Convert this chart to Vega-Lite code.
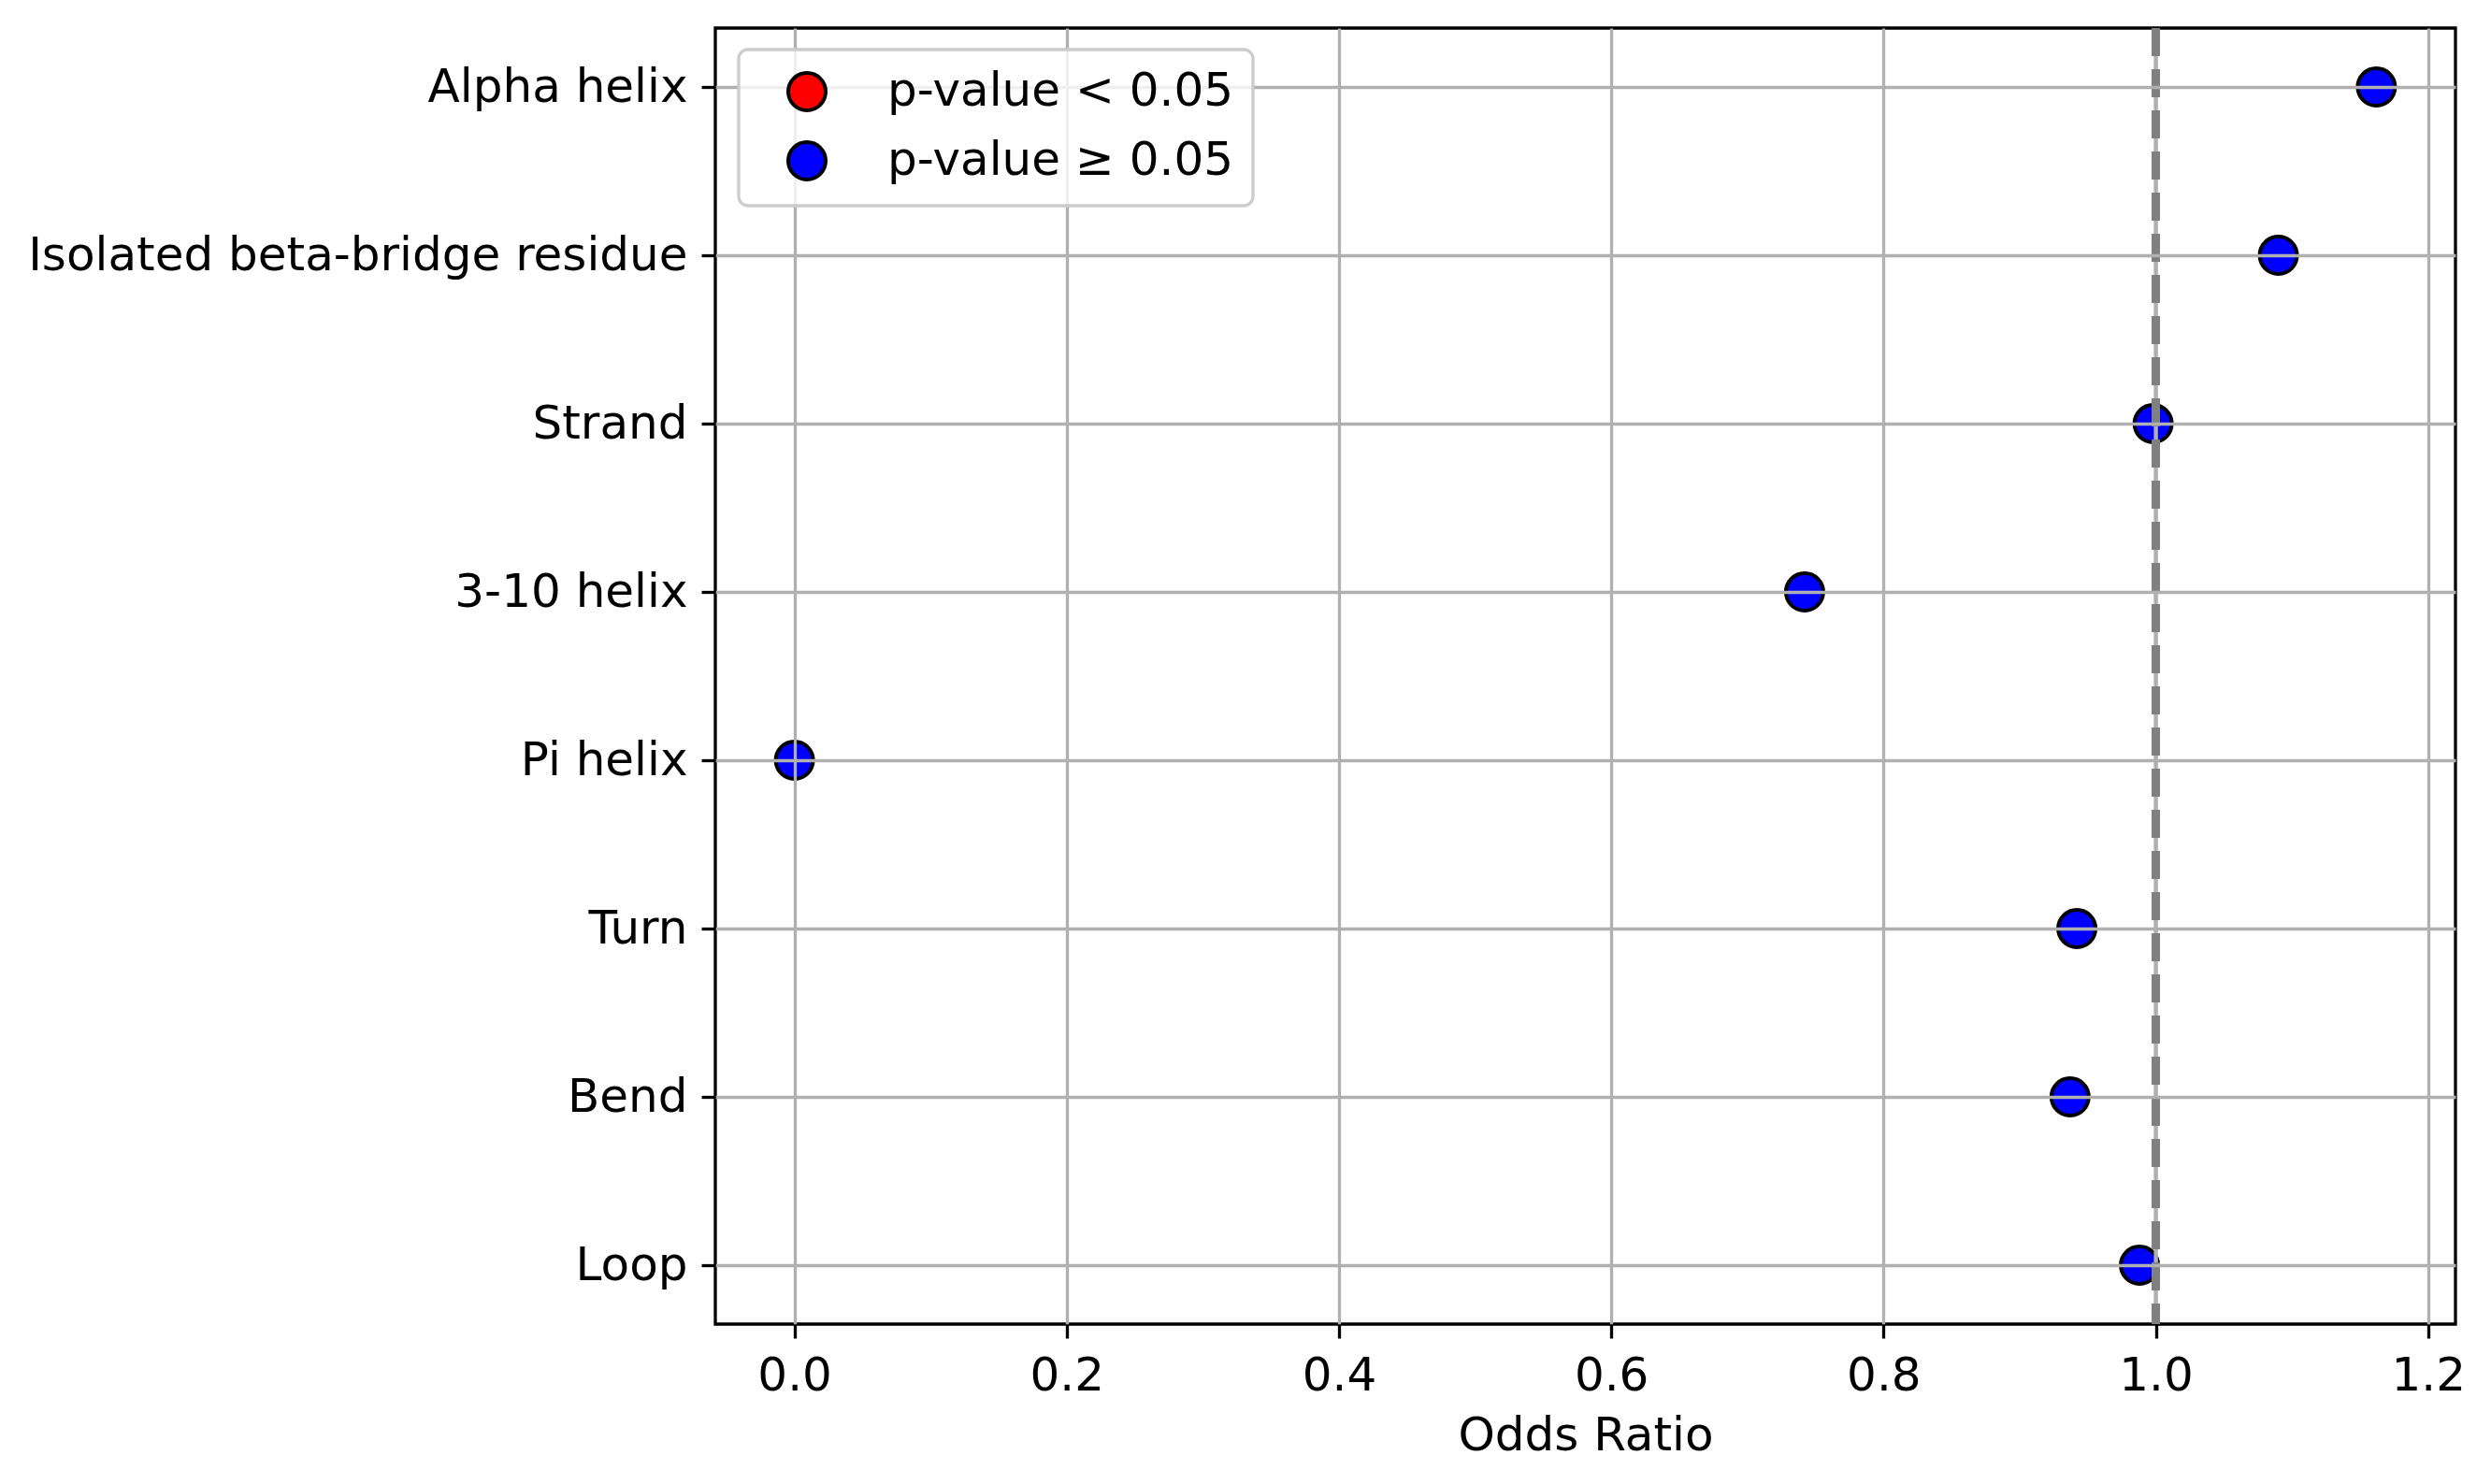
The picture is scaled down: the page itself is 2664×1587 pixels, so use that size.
{
  "$schema": "https://vega.github.io/schema/vega-lite/v6.json",
  "width": 1861,
  "height": 1386,
  "autosize": {"type": "none"},
  "padding": {"left": 765, "top": 30, "right": 38, "bottom": 171},
  "background": "white",
  "data": {
    "values": [
      {"structure": "Alpha helix", "odds_ratio": 1.162, "sig": "p-value ≥ 0.05"},
      {"structure": "Isolated beta-bridge residue", "odds_ratio": 1.090, "sig": "p-value ≥ 0.05"},
      {"structure": "Strand", "odds_ratio": 0.998, "sig": "p-value ≥ 0.05"},
      {"structure": "3-10 helix", "odds_ratio": 0.742, "sig": "p-value ≥ 0.05"},
      {"structure": "Pi helix", "odds_ratio": 0.0, "sig": "p-value ≥ 0.05"},
      {"structure": "Turn", "odds_ratio": 0.942, "sig": "p-value ≥ 0.05"},
      {"structure": "Bend", "odds_ratio": 0.937, "sig": "p-value ≥ 0.05"},
      {"structure": "Loop", "odds_ratio": 0.988, "sig": "p-value ≥ 0.05"}
    ]
  },
  "layer": [
    {
      "mark": {"type": "point", "filled": true, "size": 1600, "stroke": "black", "strokeWidth": 4, "opacity": 1},
      "encoding": {
        "x": {
          "field": "odds_ratio",
          "type": "quantitative",
          "title": "Odds Ratio",
          "scale": {"domain": [-0.0581, 1.2201], "nice": false, "zero": false},
          "axis": {
            "values": [0, 0.2, 0.4, 0.6, 0.8, 1.0, 1.2],
            "format": ".1f",
            "titlePadding": 14,
            "zindex": 1,
            "gridColor": {"condition": {"test": "datum.value === 1", "value": "transparent"}, "value": "#b0b0b0"}
          }
        },
        "y": {
          "field": "structure",
          "type": "nominal",
          "title": null,
          "sort": null,
          "scale": {"type": "point", "padding": 0.35},
          "axis": {"zindex": 1}
        },
        "color": {
          "field": "sig",
          "type": "nominal",
          "scale": {"domain": ["p-value < 0.05", "p-value ≥ 0.05"], "range": ["red", "blue"]},
          "legend": {
            "title": null,
            "orient": "none",
            "legendX": 25,
            "legendY": 23,
            "symbolType": "circle",
            "symbolSize": 1600,
            "symbolStrokeWidth": 4,
            "symbolStrokeColor": "black",
            "symbolOffset": 28,
            "labelOffset": 61,
            "labelLimit": 0,
            "rowPadding": 18
          }
        }
      }
    },
    {
      "mark": {"type": "rule", "color": "#b0b0b0", "strokeWidth": 3.3},
      "encoding": {"x": {"datum": 1.0}}
    },
    {
      "mark": {"type": "rule", "color": "gray", "strokeWidth": 8, "strokeDash": [30, 14]},
      "encoding": {"x": {"datum": 1.0}}
    }
  ],
  "config": {
    "font": "DejaVu Sans",
    "view": {"stroke": "black", "strokeWidth": 3.3},
    "axis": {
      "labelFont": "DejaVu Sans",
      "labelFontSize": 50,
      "labelColor": "black",
      "labelLimit": 0,
      "titleFont": "DejaVu Sans",
      "titleFontSize": 50,
      "titleFontWeight": "normal",
      "titleColor": "black",
      "domain": false,
      "grid": true,
      "gridColor": "#b0b0b0",
      "gridWidth": 3.3,
      "gridOpacity": 1,
      "ticks": true,
      "tickColor": "black",
      "tickWidth": 3.3,
      "tickSize": 15,
      "labelPadding": 15
    },
    "legend": {
      "labelFont": "DejaVu Sans",
      "labelFontSize": 50,
      "labelColor": "black",
      "padding": 20,
      "fillColor": "rgba(255,255,255,0.8)",
      "strokeColor": "#cccccc",
      "strokeWidth": 3.3,
      "cornerRadius": 10,
      "zindex": 2
    }
  }
}
